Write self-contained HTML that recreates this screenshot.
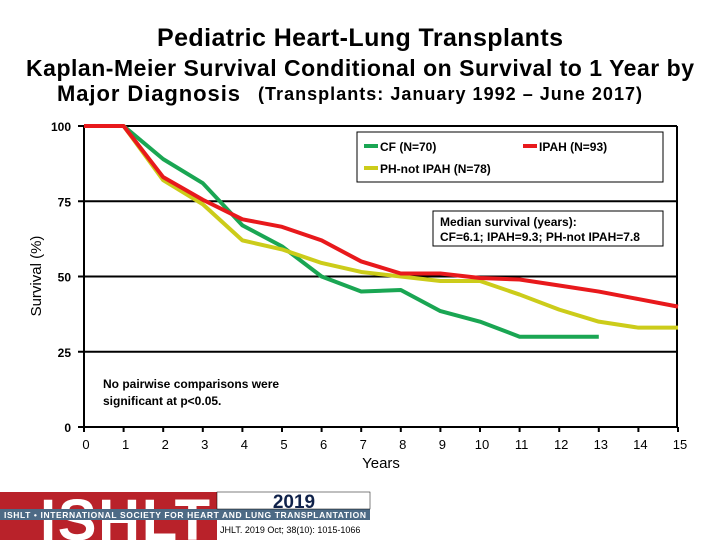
<!DOCTYPE html>
<html><head><meta charset="utf-8"><style>
body{margin:0;background:#fff;width:720px;height:540px;overflow:hidden;font-family:"Liberation Sans",Arial,sans-serif}
</style></head><body>
<svg width="720" height="540" font-family="Liberation Sans, Arial, sans-serif">
<text x="360" y="46" text-anchor="middle" font-size="25" font-weight="bold" textLength="406">Pediatric Heart-Lung Transplants</text>
<text x="360" y="76" text-anchor="middle" font-size="23" font-weight="bold" textLength="668">Kaplan-Meier Survival Conditional on Survival to 1 Year by</text>
<text x="57" y="101" font-size="22" font-weight="bold" textLength="183">Major Diagnosis</text>
<text x="258" y="100" font-size="18" font-weight="bold" textLength="384">(Transplants: January 1992 – June 2017)</text>
<g id="plot"></g>
<text transform="translate(41,276) rotate(-90)" text-anchor="middle" font-size="15">Survival (%)</text>
<text x="381" y="468" text-anchor="middle" font-size="15">Years</text>
<g font-size="12" font-weight="bold">
<rect x="357" y="132" width="306" height="50" fill="#fff" stroke="#000"/>
<line x1="364" y1="146" x2="378" y2="146" stroke="#1aa653" stroke-width="4"/><text x="380" y="151">CF (N=70)</text>
<line x1="523" y1="146" x2="537" y2="146" stroke="#e8191c" stroke-width="4"/><text x="539" y="151">IPAH (N=93)</text>
<line x1="364" y1="168" x2="378" y2="168" stroke="#cccc1a" stroke-width="4"/><text x="380" y="173">PH-not IPAH (N=78)</text>
</g>
<g font-size="12" font-weight="bold">
<rect x="433" y="211" width="230" height="35" fill="#fff" stroke="#000"/>
<text x="440" y="226">Median survival (years):</text>
<text x="440" y="241">CF=6.1; IPAH=9.3; PH-not IPAH=7.8</text>
</g>
<g font-size="12" font-weight="bold">
<text x="103" y="388">No pairwise comparisons were</text>
<text x="103" y="405">significant at p&lt;0.05.</text>
</g>
<g>
<rect x="0" y="492" width="217" height="48" fill="#b9222a"/>
<text x="125" y="540" text-anchor="middle" font-size="58" font-weight="bold" fill="#fff" textLength="170">ISHLT</text>
<rect x="0" y="509" width="370" height="11" fill="#4d6a85"/>
<text x="4" y="518" font-size="8.5" font-weight="bold" fill="#fff" textLength="362">ISHLT • INTERNATIONAL SOCIETY FOR HEART AND LUNG TRANSPLANTATION</text>
<rect x="217" y="492" width="153" height="17" fill="#fff" stroke="#000" stroke-width="0.5"/>
<text x="294" y="508" text-anchor="middle" font-size="19" font-weight="bold" fill="#10224a">2019</text>
<text x="220" y="533" font-size="9">JHLT. 2019 Oct; 38(10): 1015-1066</text>
</g>
</svg>
<script>
const years=[0,1,2,3,4,5,6,7,8,9,10,11,12,13,14,15];
const cf=[100,100,89,81,67,60,50,45,45.5,38.5,35,30,30,30];
const ipah=[100,100,83,75.5,69,66.5,62,55,51,51,49.5,49,47,45,42.5,40];
const ph=[100,100,82,74,62,59,54.5,51.5,50,48.5,48.5,44,39,35,33,33];
const yTicks=[0,25,50,75,100];
const NS='http://www.w3.org/2000/svg';
const X=v=>84+v*39.6, Y=v=>427-v*3.01;
const g=document.getElementById('plot');
function mk(t,a){const e=document.createElementNS(NS,t);for(const k in a)e.setAttribute(k,a[k]);g.appendChild(e);return e;}
yTicks.forEach(t=>{
 const l=mk('line',{x1:78,x2:677,y1:Y(t),y2:Y(t),stroke:'#000','stroke-width':2});
 
 
 const tx=mk('text',{x:71,y:Y(t)+5,'text-anchor':'end','font-size':12,'font-weight':'bold'});tx.textContent=t;
 
 
});
const ax=mk('line',{x1:84,x2:84,y1:Y(100),y2:Y(0),stroke:'#000','stroke-width':2});


const rb=mk('line',{x1:677,x2:677,y1:Y(100),y2:Y(0),stroke:'#000','stroke-width':2});


years.forEach(t=>{
 const tk=mk('line',{x1:X(t),x2:X(t),y1:Y(0),y2:Y(0)+5,stroke:'#000','stroke-width':2});
 
 
 const tx=mk('text',{x:X(t)+2,y:449,'text-anchor':'middle','font-size':13});tx.textContent=t;
 
 
});
[[cf,'#1aa653','cf-line'],[ph,'#cccc1a','ph-not-ipah-line'],[ipah,'#e8191c','ipah-line']].forEach(([d,c,n])=>{
 const p=mk('polyline',{points:d.map((v,i)=>X(years[i])+','+Y(v)).join(' '),fill:'none',stroke:c,'stroke-width':4,'stroke-linejoin':'round'});
 
 
});
</script>
</body></html>
